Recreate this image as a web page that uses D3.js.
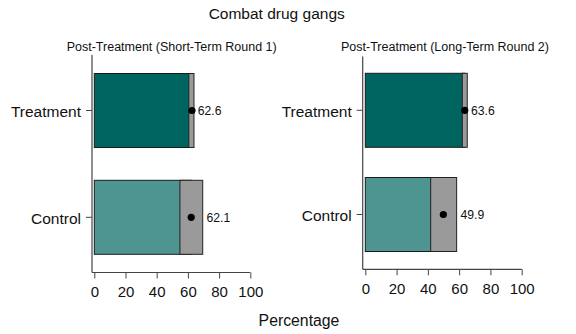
<!DOCTYPE html>
<html><head><meta charset="utf-8">
<script src="https://cdn.jsdelivr.net/npm/d3@7"></script>
<style>body{margin:0;background:#fff}svg{display:block;font-family:"Liberation Sans",Arial,sans-serif}</style>
</head><body>
<script>
const groups = ["Treatment", "Control"];
const panelTitles = ["Post-Treatment (Short-Term Round 1)", "Post-Treatment (Long-Term Round 2)"];
const meansShort = [62.6, 62.1];
const lowerShort = [60.6, 54.9];
const upperShort = [63.9, 69.5];
const meansLong = [63.6, 49.9];
const lowerLong = [62.0, 41.8];
const upperLong = [65.2, 58.4];
const xTicks = [0, 20, 40, 60, 80, 100];
const barColors = ["#006561", "#4e9592"];

const W = 576, H = 334;
const svg = d3.select("body").append("svg").attr("width", W).attr("height", H);

const panels = [
  {title: panelTitles[0], means: meansShort, lower: lowerShort, upper: upperShort,
   xr: [94.3, 250.3], axisX: 92, yTop: 55, yBot: 272.5, yr: [110.5, 217.3], titleX: 171.7},
  {title: panelTitles[1], means: meansLong, lower: lowerLong, upper: upperLong,
   xr: [365.3, 521.7], axisX: 362.7, yTop: 56.5, yBot: 269.3, yr: [110.3, 214.5], titleX: 445}
];

svg.append("text").attr("x", 276.7).attr("y", 19).attr("text-anchor", "middle")
  .attr("font-size", 15.5).attr("fill", "#111").text("Combat drug gangs");
svg.append("text").attr("x", 299).attr("y", 326).attr("text-anchor", "middle")
  .attr("font-size", 15.8).attr("fill", "#111").text("Percentage");

panels.forEach(p => {
  const x = d3.scaleLinear().domain([0, 100]).range(p.xr);
  const y = d3.scalePoint().domain(groups).range(p.yr);
  const bh = 74;
  const g = svg.append("g");
  g.append("text").attr("x", p.titleX).attr("y", 50.5).attr("text-anchor", "middle")
    .attr("font-size", 12.5).attr("fill", "#111").text(p.title);

  // bars
  groups.forEach((grp, i) => {
    const cy = y(grp);
    g.append("rect").attr("x", x(0)).attr("y", cy - bh/2)
      .attr("width", x(p.means[i]) - x(0)).attr("height", bh)
      .attr("fill", barColors[i]).attr("stroke", "#1a1a1a").attr("stroke-width", 1);
    g.append("rect").attr("x", x(p.lower[i])).attr("y", cy - bh/2)
      .attr("width", x(p.upper[i]) - x(p.lower[i])).attr("height", bh)
      .attr("fill", "#9a9a9a").attr("stroke", "#222").attr("stroke-width", 1);
    g.append("circle").attr("cx", x(p.means[i])).attr("cy", cy).attr("r", 3.6).attr("fill", "#000");
    g.append("text").attr("x", x(p.upper[i]) + 3.8).attr("y", cy + 4.6).attr("font-size", 12.2)
      .attr("fill", "#111").text(p.means[i].toFixed(1));
  });

  // y axis
  g.append("line").attr("x1", p.axisX).attr("x2", p.axisX).attr("y1", p.yTop).attr("y2", p.yBot)
    .attr("stroke", "#444").attr("stroke-width", 1.2);
  groups.forEach(grp => {
    g.append("line").attr("x1", p.axisX - 6).attr("x2", p.axisX).attr("y1", y(grp)).attr("y2", y(grp))
      .attr("stroke", "#444").attr("stroke-width", 1);
    g.append("text").attr("x", p.axisX - 11).attr("y", y(grp) + 6.5).attr("text-anchor", "end")
      .attr("font-size", 15.5).attr("fill", "#111").text(grp);
  });

  // x axis
  const xa = g.append("g").attr("transform", `translate(0,${p.yBot})`)
    .call(d3.axisBottom(x).tickValues(xTicks).tickSize(6).tickPadding(8).tickFormat(d3.format("d")));
  xa.select(".domain").attr("d", `M${p.axisX},0H${x(100)}`).attr("stroke", "#444").attr("stroke-width", 1.2);
  xa.selectAll(".tick line").attr("stroke", "#444");
  xa.selectAll(".tick text").attr("font-size", 15).attr("fill", "#111")
    .attr("font-family", '"Liberation Sans",Arial,sans-serif');
});
</script>
</body></html>
